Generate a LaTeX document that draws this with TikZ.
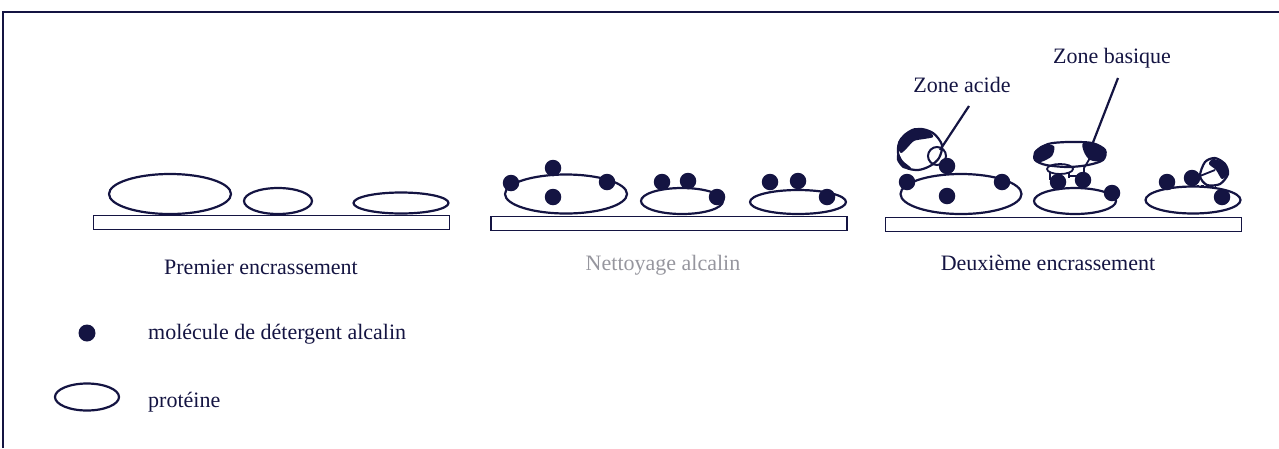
\documentclass[tikz,border=0pt]{standalone}
\usepackage{fontspec}
\setmainfont{Liberation Serif}
\usetikzlibrary{shapes.geometric}
\definecolor{ink}{RGB}{20,20,66}
\definecolor{faded}{RGB}{150,150,158}
\begin{document}
\begin{tikzpicture}[x=1pt,y=-1pt,
  prot/.style={ellipse, draw=ink, line width=2.2pt, inner sep=0pt},
  det/.style={circle, fill=ink, inner sep=0pt, minimum size=16.5pt},
  plate/.style={rectangle, draw=ink, line width=1.9pt, inner sep=0pt, minimum width=356pt, minimum height=14pt},
  captxt/.style={font=\fontsize{22}{24}\selectfont, text=ink, inner sep=0pt},
  lead/.style={draw=ink, line width=2.2pt},
  blob/.style={draw=ink, line width=2.2pt}
]
\useasboundingbox (0,0) rectangle (1279,448);
% frame
\draw[ink, line width=1.8pt] (3,448) -- (3,12) -- (1279,12);

% ---- first fouling ----
\node[plate] (s1) at (271.5,222.5) {};
\node[prot, minimum width=122pt, minimum height=40pt] (p1a) at (170,194) {};
\node[prot, minimum width=68pt, minimum height=26pt] (p1b) at (278,201) {};
\node[prot, minimum width=95pt, minimum height=21pt] (p1c) at (401,203) {};
\node[captxt] (t1) at (261,267) {Premier encrassement};

% ---- alkaline cleaning ----
\node[plate] (s2) at (669,223.5) {};
\node[prot, minimum width=122pt, minimum height=39pt] (p2a) at (566,194) {};
\node[prot, minimum width=82pt, minimum height=26pt] (p2b) at (682,201) {};
\node[prot, minimum width=96pt, minimum height=24pt] (p2c) at (798,202) {};
\foreach \n/\x/\y in {a1/511/183, a2/553/168, a3/553/197, a4/607/182,
                      b1/662/182, b2/688/181, b3/717/197,
                      c1/770/182, c2/798/181, c3/827/197}
  \node[det] (d2\n) at (\x,\y) {};
\node[captxt, text=faded] (t2) at (663,265) {Nettoyage alcalin};

% ---- second fouling ----
\node[plate] (s3) at (1063.5,224.5) {};
\node[prot, minimum width=121pt, minimum height=40pt] (p3a) at (961,194) {};
\node[prot, minimum width=82pt, minimum height=26pt] (p3b) at (1075,201) {};
\node[prot, minimum width=95pt, minimum height=27pt] (p3c) at (1193,200) {};

% acid-zone protein on the large deposit
\draw[blob] plot[smooth cycle] coordinates {(918,129) (933,133) (942,145) (939,158) (930,166) (918,170) (905,167) (898,153) (901,139)};
\fill[ink] plot[smooth cycle] coordinates {(898,146) (903,135) (915,128) (929,131) (933,137) (924,139) (914,141) (907,148) (901,153)};
\fill[ink] plot[smooth cycle] coordinates {(898,153) (903,161) (911,168) (903,168) (897,160)};
\node[circle, draw=ink, line width=2pt, minimum size=18pt, inner sep=0pt] (acid) at (937,156) {};

% basic-zone protein on the middle deposit
\draw[blob] plot[smooth cycle] coordinates {(1036,152) (1048,144) (1068,142) (1092,143) (1105,150) (1103,160) (1088,165) (1068,167) (1046,165) (1035,160)};
\fill[ink] plot[smooth cycle] coordinates {(1034,152) (1043,145) (1054,146) (1052,156) (1041,162) (1035,160)};
\fill[ink] plot[smooth cycle] coordinates {(1083,143) (1097,144) (1106,151) (1102,161) (1090,160) (1084,152)};
\node[ellipse, draw=ink, line width=1.8pt, minimum width=26pt, minimum height=10pt, inner sep=0pt] (basic) at (1060,169) {};
\draw[ink, line width=1.8pt] (1050,172) -- (1050,180) (1069,172) -- (1069,178) (1069,176) -- (1078,176);
\draw[ink, line width=1.8pt] (1090,158) -- (1084,168) -- (1084,174);

% small protein on the right deposit
\draw[blob] plot[smooth cycle] coordinates {(1205,162) (1215,158) (1225,164) (1228,174) (1220,184) (1207,185) (1200,176)};
\fill[ink] plot[smooth cycle] coordinates {(1213,159) (1224,163) (1228,173) (1222,179) (1216,170) (1209,164)};
\draw[ink, line width=1.8pt] (1200,176) -- (1215,170);
\draw[ink, line width=2.6pt, dash pattern=on 2.5pt off 2pt] (1192,186) -- (1216,186);

\foreach \n/\x/\y in {a1/907/182, a2/947/166, a3/947/196, a4/1002/182,
                      b1/1058/182, b2/1083/180, b3/1112/193,
                      c1/1167/182, c2/1192/178, c3/1222/197}
  \node[det] (d3\n) at (\x,\y) {};

% zone labels and their leaders
\node[captxt] (zacid) at (962,85) {Zone acide};
\node[captxt] (zbase) at (1112,58) {Zone basique};
\coordinate (acidfoot) at (969,106);
\coordinate (acidtip) at (940,150);
\coordinate (basefoot) at (1118,78);
\coordinate (basetip) at (1092,145);
\draw[lead] (acidfoot) -- (acidtip);
\draw[lead] (basefoot) -- (basetip);

\node[captxt] (t3) at (1048,263) {Deuxième encrassement};

% ---- key ----
\node[det, minimum size=17pt] (kdot) at (87,333) {};
\node[captxt, anchor=west] (kdett) at (148,334) {molécule de détergent alcalin};
\node[prot, minimum width=64pt, minimum height=27pt] (kprot) at (87,397) {};
\node[captxt, anchor=west] (kprott) at (148,402) {protéine};
\end{tikzpicture}
\end{document}
